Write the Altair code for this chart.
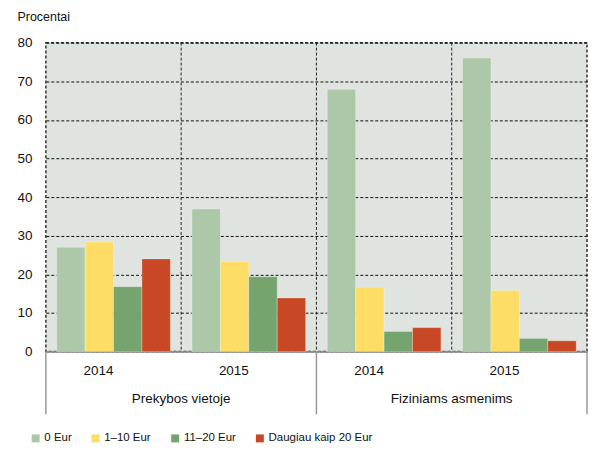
import altair as alt
import pandas as pd

groups = ["Prekybos vietoje|2014", "Prekybos vietoje|2015",
          "Fiziniams asmenims|2014", "Fiziniams asmenims|2015"]
series = ["0 Eur", "1–10 Eur", "11–20 Eur", "Daugiau kaip 20 Eur"]
colors = ["#ADC8A8", "#FEDD66", "#75A46F", "#C84826"]
values = [
    [27.0, 28.4, 16.8, 24.0],
    [36.9, 23.3, 19.4, 13.9],
    [67.9, 16.7, 5.2, 6.2],
    [76.0, 15.8, 3.4, 2.8],
]
categories = ["Prekybos vietoje", "Fiziniams asmenims"]

rows = []
for g, vals in zip(groups, values):
    for s, v in zip(series, vals):
        rows.append({"group": g, "series": s, "value": v})
df = pd.DataFrame(rows)

W, H = 543, 310
FONT = "Liberation Sans, Arial"
FS = 13.5

xscale = alt.Scale(domain=groups, paddingInner=0, paddingOuter=0)

vgrid = alt.Chart(pd.DataFrame({"group": groups[1:]})).mark_rule(
    color="#222", strokeDash=[3, 2], strokeWidth=1
).encode(x=alt.X("group:N", bandPosition=0, scale=xscale, title=None))

bars = alt.Chart(df).mark_bar(strokeWidth=0.8, strokeOpacity=0.35, stroke="#ffffff").encode(
    x=alt.X("group:N", scale=xscale, title=None,
            axis=alt.Axis(labelExpr="split(datum.value, '|')[1]", ticks=False, labelAngle=0,
                          domainColor="#9a9a9a", domainWidth=1.5, labelPadding=19,
                          labelBaseline="middle", labelFontSize=FS, labelColor="#111", grid=False)),
    xOffset=alt.XOffset("series:N", scale=alt.Scale(domain=series, paddingInner=0, paddingOuter=0.38)),
    y=alt.Y("value:Q", scale=alt.Scale(domain=[0, 80], nice=False),
            axis=alt.Axis(values=list(range(0, 81, 10)), title="Procentai", titleAngle=0,
                          titleAlign="left", titleBaseline="alphabetic", titleX=-29, titleY=-22,
                          titleFontSize=12.5, titleFontWeight="normal", titleColor="#111",
                          domain=False, ticks=False, labelPadding=14, labelFontSize=FS,
                          labelColor="#111", grid=True, gridColor="#111", gridDash=[3, 2],
                          gridWidth=1)),
    color=alt.Color("series:N", scale=alt.Scale(domain=series, range=colors),
                    legend=alt.Legend(title=None, orient="none", direction="horizontal",
                                      legendX=-16, legendY=391, padding=0, symbolType="square",
                                      symbolSize=64, symbolStrokeWidth=0, labelFontSize=11.5,
                                      labelColor="#111", columnPadding=18, labelOffset=3)),
)

sep_left = alt.Chart(pd.DataFrame({"group": [groups[0], groups[2]]})).mark_rule(
    color="#9a9a9a", strokeWidth=1.5
).encode(x=alt.X("group:N", bandPosition=0, scale=xscale, title=None),
         y=alt.value(H), y2=alt.value(H + 63))

sep_right = alt.Chart(pd.DataFrame({"group": [groups[3]]})).mark_rule(
    color="#9a9a9a", strokeWidth=1.5
).encode(x=alt.X("group:N", bandPosition=1, scale=xscale, title=None),
         y=alt.value(H), y2=alt.value(H + 63))

cat_text = alt.Chart(pd.DataFrame({"group": [groups[1], groups[3]], "label": categories})).mark_text(
    fontSize=FS, color="#111", baseline="middle", align="center"
).encode(x=alt.X("group:N", bandPosition=0, scale=xscale, title=None),
         y=alt.value(H + 48), text="label:N")

chart = alt.layer(vgrid, bars, sep_left, sep_right, cat_text).properties(
    width=W, height=H, padding={"left": 8, "top": 2, "right": 0, "bottom": 0}
).configure(font=FONT).configure_view(
    fill="#E0E4E1", stroke="#333", strokeDash=[3, 2], strokeWidth=1.5
)

chart.save("out.html", embed_options={"renderer": "svg", "actions": False})
